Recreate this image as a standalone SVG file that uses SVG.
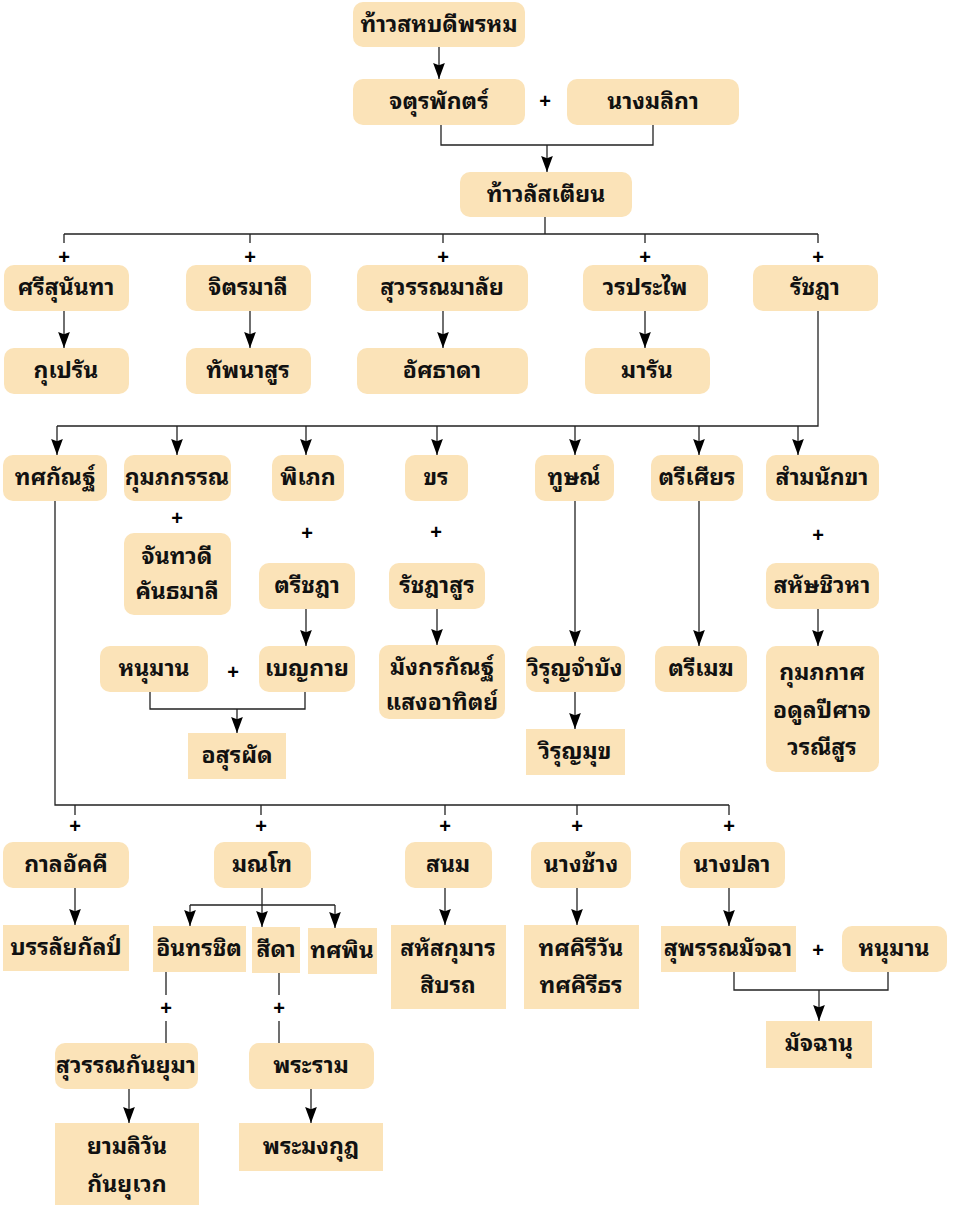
<svg xmlns="http://www.w3.org/2000/svg" width="955" height="1205" viewBox="0 0 955 1205">
<style>
.n{fill:#fbe3b8;stroke:none}
.t{font-family:"Noto Sans Thai Looped","Loma","Garuda","Tahoma","Noto Sans Thai","Noto Sans",sans-serif;font-size:23px;font-weight:bold;fill:#111;text-anchor:middle}
.p{font-family:"Liberation Sans",sans-serif;font-size:20px;font-weight:bold;fill:#000;text-anchor:middle}
.c{fill:none;stroke:#222;stroke-width:1.3}
.a{fill:none;stroke:#222;stroke-width:1.3;marker-end:url(#ah)}
</style>
<defs>
<marker id="ah" markerWidth="12" markerHeight="16" refX="5.5" refY="15" orient="0" markerUnits="userSpaceOnUse" viewBox="0 0 11 15">
<path d="M0,0 L5.5,2 L11,0 L5.5,15 Z" fill="#000"/>
</marker>
</defs>
<rect width="955" height="1205" fill="#fff"/>
<g id="connectors">
<path class="a" d="M439,47 V79"/>
<path class="c" d="M441,125 V145 H653 V125"/>
<path class="a" d="M547,145 V172"/>
<path class="c" d="M545,217 V234 M64,234 H818 M64,234 V243 M250,234 V243 M443,234 V243 M645,234 V243 M818,234 V243"/>
<path class="a" d="M64,311 V348"/>
<path class="a" d="M250,311 V348"/>
<path class="a" d="M443,311 V348"/>
<path class="a" d="M645,311 V348"/>
<path class="c" d="M818,300 V426 H57"/>
<path class="a" d="M57,426 V455"/>
<path class="a" d="M177,426 V455"/>
<path class="a" d="M306,426 V455"/>
<path class="a" d="M437,426 V455"/>
<path class="a" d="M575,426 V455"/>
<path class="a" d="M699,426 V455"/>
<path class="a" d="M798,426 V455"/>
<path class="a" d="M306,609 V646"/>
<path class="a" d="M437,609 V645"/>
<path class="a" d="M575,501 V646"/>
<path class="a" d="M699,501 V646"/>
<path class="a" d="M818,609 V646"/>
<path class="c" d="M150,692 V709 H305 V692"/>
<path class="a" d="M237,709 V733"/>
<path class="a" d="M575,692 V729"/>
<path class="c" d="M55,501 V805 H729 M75,805 V815 M261,805 V815 M445,805 V815 M577,805 V815 M729,805 V815"/>
<path class="a" d="M75,888 V925"/>
<path class="c" d="M262,888 V905 M190,905 H335"/>
<path class="a" d="M190,905 V926"/>
<path class="a" d="M262,905 V927"/>
<path class="a" d="M335,905 V928"/>
<path class="a" d="M445,888 V925"/>
<path class="a" d="M577,888 V925"/>
<path class="a" d="M729,888 V926"/>
<path class="c" d="M166,972 V995 M166,1021 V1043 M279,973 V995 M279,1021 V1043"/>
<path class="a" d="M129,1089 V1123"/>
<path class="a" d="M311,1089 V1123"/>
<path class="c" d="M734,972 V990 H888 V972"/>
<path class="a" d="M819,990 V1021"/>
</g>
<g id="plus">
<text class="p" x="545" y="108">+</text>
<text class="p" x="64" y="264">+</text>
<text class="p" x="250" y="264">+</text>
<text class="p" x="443" y="264">+</text>
<text class="p" x="645" y="264">+</text>
<text class="p" x="818" y="264">+</text>
<text class="p" x="177" y="525">+</text>
<text class="p" x="307" y="540">+</text>
<text class="p" x="436" y="539">+</text>
<text class="p" x="818" y="542">+</text>
<text class="p" x="233" y="679">+</text>
<text class="p" x="75" y="833">+</text>
<text class="p" x="261" y="833">+</text>
<text class="p" x="445" y="833">+</text>
<text class="p" x="577" y="833">+</text>
<text class="p" x="729" y="833">+</text>
<text class="p" x="166" y="1015">+</text>
<text class="p" x="279" y="1015">+</text>
<text class="p" x="818" y="957">+</text>
</g>
<g id="n1"><rect class="n" x="353" y="2" width="172" height="45" rx="10"/><text class="t" x="439" y="32">ท้าวสหบดีพรหม</text></g>
<g id="n2"><rect class="n" x="353" y="79" width="172" height="46" rx="10"/><text class="t" x="439" y="109">จตุรพักตร์</text></g>
<g id="n3"><rect class="n" x="567" y="79" width="172" height="46" rx="10"/><text class="t" x="653" y="109">นางมลิกา</text></g>
<g id="n4"><rect class="n" x="460" y="172" width="172" height="45" rx="10"/><text class="t" x="546" y="202">ท้าวลัสเตียน</text></g>
<g id="n5"><rect class="n" x="4" y="265" width="125" height="46" rx="10"/><text class="t" x="66" y="295">ศรีสุนันทา</text></g>
<g id="n6"><rect class="n" x="186" y="265" width="125" height="46" rx="10"/><text class="t" x="248" y="295">จิตรมาลี</text></g>
<g id="n7"><rect class="n" x="357" y="265" width="171" height="46" rx="10"/><text class="t" x="442" y="295">สุวรรณมาลัย</text></g>
<g id="n8"><rect class="n" x="583" y="265" width="125" height="46" rx="10"/><text class="t" x="645" y="295">วรประไพ</text></g>
<g id="n9"><rect class="n" x="753" y="265" width="125" height="46" rx="10"/><text class="t" x="815" y="295">รัชฎา</text></g>
<g id="n10"><rect class="n" x="4" y="348" width="125" height="46" rx="10"/><text class="t" x="66" y="378">กุเปรัน</text></g>
<g id="n11"><rect class="n" x="186" y="348" width="125" height="46" rx="10"/><text class="t" x="248" y="378">ทัพนาสูร</text></g>
<g id="n12"><rect class="n" x="357" y="348" width="171" height="46" rx="10"/><text class="t" x="442" y="378">อัศธาดา</text></g>
<g id="n13"><rect class="n" x="585" y="348" width="125" height="46" rx="10"/><text class="t" x="647" y="378">มารัน</text></g>
<g id="n14"><rect class="n" x="3" y="455" width="104" height="46" rx="10"/><text class="t" x="55" y="485">ทศกัณฐ์</text></g>
<g id="n15"><rect class="n" x="124" y="455" width="107" height="46" rx="10"/><text class="t" x="177" y="485">กุมภกรรณ</text></g>
<g id="n16"><rect class="n" x="272" y="455" width="72" height="46" rx="10"/><text class="t" x="308" y="485">พิเภก</text></g>
<g id="n17"><rect class="n" x="405" y="455" width="63" height="46" rx="10"/><text class="t" x="436" y="485">ขร</text></g>
<g id="n18"><rect class="n" x="535" y="455" width="79" height="46" rx="10"/><text class="t" x="574" y="485">ทูษณ์</text></g>
<g id="n19"><rect class="n" x="651" y="455" width="92" height="46" rx="10"/><text class="t" x="697" y="485">ตรีเศียร</text></g>
<g id="n20"><rect class="n" x="766" y="455" width="113" height="46" rx="10"/><text class="t" x="822" y="485">สำมนักขา</text></g>
<g id="n21"><rect class="n" x="124" y="533" width="107" height="82" rx="10"/><text class="t" x="177" y="564">จันทวดี</text><text class="t" x="177" y="599">คันธมาลี</text></g>
<g id="n22"><rect class="n" x="259" y="563" width="96" height="46" rx="10"/><text class="t" x="307" y="593">ตรีชฎา</text></g>
<g id="n23"><rect class="n" x="389" y="563" width="96" height="46" rx="10"/><text class="t" x="437" y="593">รัชฎาสูร</text></g>
<g id="n24"><rect class="n" x="766" y="563" width="113" height="46" rx="10"/><text class="t" x="822" y="593">สหัษชิวหา</text></g>
<g id="n25"><rect class="n" x="100" y="646" width="108" height="46" rx="10"/><text class="t" x="154" y="676">หนุมาน</text></g>
<g id="n26"><rect class="n" x="259" y="646" width="96" height="46" rx="10"/><text class="t" x="307" y="676">เบญกาย</text></g>
<g id="n27"><rect class="n" x="379" y="645" width="126" height="74" rx="10"/><text class="t" x="442" y="675">มังกรกัณฐ์</text><text class="t" x="442" y="710">แสงอาทิตย์</text></g>
<g id="n28"><rect class="n" x="526" y="646" width="99" height="46" rx="10"/><text class="t" x="575" y="676">วิรุญจำบัง</text></g>
<g id="n29"><rect class="n" x="655" y="646" width="92" height="46" rx="10"/><text class="t" x="701" y="676">ตรีเมฆ</text></g>
<g id="n30"><rect class="n" x="766" y="646" width="113" height="126" rx="10"/><text class="t" x="822" y="680">กุมภกาศ</text><text class="t" x="822" y="718">อดูลปีศาจ</text><text class="t" x="822" y="755">วรณีสูร</text></g>
<g id="n31"><rect class="n" x="188" y="733" width="98" height="46"/><text class="t" x="237" y="763">อสุรผัด</text></g>
<g id="n32"><rect class="n" x="526" y="729" width="99" height="46"/><text class="t" x="575" y="759">วิรุญมุข</text></g>
<g id="n33"><rect class="n" x="3" y="842" width="126" height="46" rx="10"/><text class="t" x="66" y="872">กาลอัคคี</text></g>
<g id="n34"><rect class="n" x="214" y="842" width="97" height="46" rx="10"/><text class="t" x="262" y="872">มณโฑ</text></g>
<g id="n35"><rect class="n" x="405" y="842" width="87" height="46" rx="10"/><text class="t" x="448" y="872">สนม</text></g>
<g id="n36"><rect class="n" x="531" y="842" width="100" height="46" rx="10"/><text class="t" x="581" y="872">นางช้าง</text></g>
<g id="n37"><rect class="n" x="680" y="842" width="105" height="46" rx="10"/><text class="t" x="732" y="872">นางปลา</text></g>
<g id="n38"><rect class="n" x="3" y="925" width="126" height="46"/><text class="t" x="66" y="955">บรรลัยกัลป์</text></g>
<g id="n39"><rect class="n" x="153" y="926" width="93" height="46"/><text class="t" x="199" y="956">อินทรชิต</text></g>
<g id="n40"><rect class="n" x="252" y="927" width="48" height="46"/><text class="t" x="276" y="957">สีดา</text></g>
<g id="n41"><rect class="n" x="308" y="928" width="69" height="46"/><text class="t" x="342" y="958">ทศพิน</text></g>
<g id="n42"><rect class="n" x="391" y="925" width="115" height="84"/><text class="t" x="448" y="956">สหัสกุมาร</text><text class="t" x="448" y="993">สิบรถ</text></g>
<g id="n43"><rect class="n" x="524" y="925" width="115" height="84"/><text class="t" x="581" y="956">ทศคิรีวัน</text><text class="t" x="581" y="993">ทศคิรีธร</text></g>
<g id="n44"><rect class="n" x="661" y="926" width="135" height="46"/><text class="t" x="728" y="956">สุพรรณมัจฉา</text></g>
<g id="n45"><rect class="n" x="842" y="926" width="105" height="46" rx="10"/><text class="t" x="894" y="956">หนุมาน</text></g>
<g id="n46"><rect class="n" x="55" y="1043" width="143" height="46" rx="10"/><text class="t" x="126" y="1073">สุวรรณกันยุมา</text></g>
<g id="n47"><rect class="n" x="249" y="1043" width="125" height="46" rx="10"/><text class="t" x="311" y="1073">พระราม</text></g>
<g id="n48"><rect class="n" x="55" y="1123" width="144" height="82"/><text class="t" x="127" y="1154">ยามลิวัน</text><text class="t" x="127" y="1192">กันยุเวก</text></g>
<g id="n49"><rect class="n" x="239" y="1123" width="144" height="48"/><text class="t" x="311" y="1154">พระมงกุฎ</text></g>
<g id="n50"><rect class="n" x="766" y="1021" width="106" height="47"/><text class="t" x="819" y="1051">มัจฉานุ</text></g>
</svg>
